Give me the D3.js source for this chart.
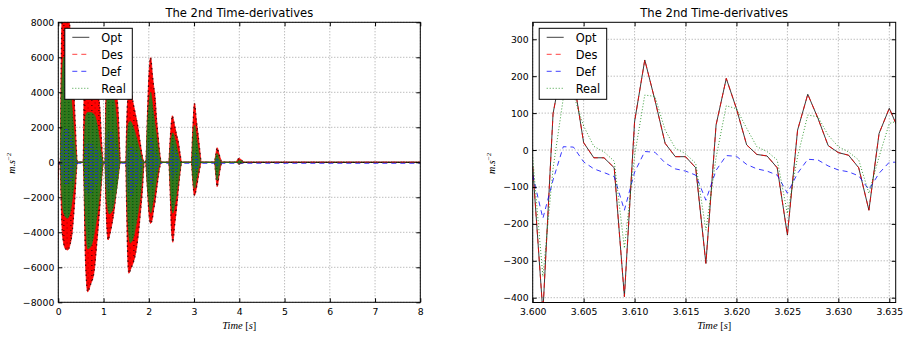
<!DOCTYPE html>
<html><head><meta charset="utf-8">
<script src="https://cdn.jsdelivr.net/npm/d3@7"></script>
<style>
body{margin:0;background:#fff;}
svg{display:block;}
text{font-family:"DejaVu Sans",sans-serif;fill:#000;}
</style>
</head><body>
<svg id="c" width="905" height="338"></svg>
<script>
// ---------------- DATA ----------------
const chartTitle = "The 2nd Time-derivatives";
const seriesNames = ["Opt", "Des", "Def", "Real"];
const seriesColors = ["#000000", "#ff0000", "#0000ff", "#008000"];
const seriesDashes = [null, "5,4", "5,4", "1,2"];

// Left panel: full run, 0..8 s (oscillation envelopes: [time, upper, lower])
const leftXTicks = [0, 1, 2, 3, 4, 5, 6, 7, 8];
const leftYTicks = [-8000, -6000, -4000, -2000, 0, 2000, 4000, 6000, 8000];
const desEnvelope = [
  [0.000,0,-1000],[0.02,0,0],[0.045,0,0],[0.06,4500,-1800],[0.08,7900,-3600],[0.11,8400,-4500],[0.16,8500,-4950],
  [0.21,8400,-5010],[0.26,7600,-4700],[0.30,6000,-4150],[0.34,4200,-3000],[0.37,2500,-1870],[0.40,700,-500],[0.42,0,0],
  [0.55,0,0],[0.57,4000,-1500],[0.59,5800,-4570],[0.62,6700,-6700],[0.65,7000,-7400],[0.71,6600,-7000],[0.79,5500,-6250],
  [0.86,4300,-4340],[0.92,3000,-2440],[0.96,1000,-900],[0.99,0,-100],[1.00,0,0],
  [1.03,0,0],[1.05,3500,-2000],[1.08,5300,-4000],[1.10,5600,-4440],[1.14,5500,-4100],[1.18,5200,-3600],[1.22,4800,-3000],
  [1.29,3900,-1500],[1.33,2500,-700],[1.36,500,-100],[1.37,0,0],
  [1.49,0,0],[1.51,2000,-2500],[1.53,3400,-5000],[1.56,3900,-6340],[1.60,4000,-6100],[1.66,3300,-5700],[1.70,2800,-5300],
  [1.76,2000,-4300],[1.81,1100,-3000],[1.86,300,-1500],[1.89,0,-200],[1.90,0,0],
  [1.93,0,0],[1.94,250,-300],[1.97,2700,-1490],[2.00,4800,-2800],[2.04,5980,-3490],[2.08,5000,-3200],[2.10,4500,-2820],
  [2.14,3650,-2200],[2.17,2500,-1590],[2.21,1370,-800],[2.23,800,-450],[2.28,0,0],
  [2.44,0,0],[2.47,1200,-1500],[2.50,2300,-3800],[2.52,2660,-4400],[2.53,2600,-4570],[2.57,2100,-3600],[2.62,1500,-2440],
  [2.65,1200,-1600],[2.69,500,-600],[2.73,0,0],
  [2.94,0,0],[2.97,1750,-1000],[3.01,3370,-1900],[3.05,2400,-1500],[3.09,1560,-900],[3.13,600,-300],[3.16,0,0],
  [3.45,0,0],[3.48,450,-700],[3.51,835,-1390],[3.55,500,-800],[3.59,150,-200],[3.62,0,0],
  [3.92,0,0],[3.97,180,-60],[4.00,230,-100],[4.05,120,-50],[4.12,0,0],
  [8.00,0,0]
];
const realEnvelope = [
  [0.05,0,0],[0.06,2500,-1000],[0.08,4800,-2000],[0.12,6000,-2900],[0.20,5800,-3200],[0.26,4500,-2900],[0.30,3300,-2300],
  [0.34,2000,-1500],[0.37,1000,-900],[0.40,200,-200],[0.41,0,0],
  [0.56,0,0],[0.58,1500,-1800],[0.61,2700,-3800],[0.65,2850,-4950],[0.72,2850,-4800],[0.80,2700,-4000],[0.87,2000,-2800],
  [0.93,900,-1500],[0.97,200,-400],[0.99,0,0],
  [1.03,0,0],[1.05,2000,-1200],[1.08,3800,-2400],[1.13,4300,-2950],[1.20,3900,-2700],[1.25,3400,-2100],[1.30,2000,-1300],
  [1.34,500,-400],[1.36,0,0],
  [1.50,0,0],[1.52,1200,-2000],[1.55,2200,-3900],[1.59,2350,-4600],[1.66,2000,-4300],[1.73,1400,-3400],[1.80,700,-2200],
  [1.85,200,-1000],[1.89,0,0],
  [1.94,0,0],[1.96,1500,-1000],[2.00,3200,-2200],[2.04,4000,-2900],[2.10,2900,-2200],[2.16,1700,-1200],[2.22,600,-300],[2.27,0,0],
  [2.45,0,0],[2.47,700,-1000],[2.50,1400,-2300],[2.53,1670,-2900],[2.59,1200,-2200],[2.65,500,-1100],[2.71,0,-100],[2.72,0,0],
  [2.95,0,0],[2.97,1000,-700],[3.01,2130,-1490],[3.06,1300,-900],[3.11,500,-300],[3.15,0,0],
  [3.46,0,0],[3.48,300,-500],[3.51,510,-1010],[3.55,250,-500],[3.60,0,0],
  [3.94,0,0],[4.00,120,-60],[4.08,0,0]
];
const defEnvelope = [
  [0.05,0,0],[0.08,1500,-900],[0.15,2000,-1300],[0.25,1800,-1200],[0.33,1000,-800],[0.40,100,-100],[0.41,0,0],
  [0.56,0,0],[0.60,900,-1500],[0.67,1100,-1800],[0.80,900,-1500],[0.90,500,-900],[0.97,0,0],
  [1.03,0,0],[1.07,1500,-1400],[1.13,1850,-1700],[1.22,1500,-1300],[1.30,700,-700],[1.35,0,0],
  [1.50,0,0],[1.54,800,-1600],[1.60,900,-1960],[1.70,700,-1500],[1.80,300,-800],[1.87,0,0],
  [1.94,0,0],[1.98,1100,-1000],[2.04,1500,-1400],[2.12,900,-900],[2.20,300,-300],[2.26,0,0],
  [2.45,0,0],[2.50,800,-800],[2.54,1000,-1000],[2.62,500,-500],[2.70,0,0],
  [2.95,0,0],[3.01,600,-600],[3.08,300,-300],[3.14,0,0],
  [3.46,0,0],[3.51,250,-300],[3.58,0,0]
];
const restLevels = [0, 0, -55, 0]; // Opt, Des, Def, Real at rest

// Right panel: zoom 3.600 .. 3.636 s
const rightXTicks = [3.600, 3.605, 3.610, 3.615, 3.620, 3.625, 3.630, 3.635];
const rightYTicks = [-400, -300, -200, -100, 0, 100, 200, 300];
const zoomTime = [3.600,3.601,3.602,3.603,3.604,3.605,3.606,3.607,3.608,3.609,3.610,3.611,3.612,3.613,3.614,3.615,3.616,3.617,3.618,
  3.619,3.620,3.621,3.622,3.623,3.624,3.625,3.626,3.627,3.628,3.629,3.630,3.631,3.632,3.633,3.634,3.635,3.636];
const optZoom = [-45,-440,99,245,195,20,-21,-21,-48,-397,77,244,135,18,-18,-18,-48,-307,68,194,112,14,-12,-16,-48,
  -230,54,151,86,12,-7,-14,-48,-163,45,113,50];
const desZoom = [-45,-440,99,245,195,20,-21,-21,-48,-397,77,244,135,18,-18,-18,-48,-307,68,194,112,14,-12,-16,-48,
  -230,54,151,86,12,-7,-14,-48,-163,45,113,50];
const defZoom = [-68,-185,-81,9,8,-32,-51,-61,-72,-163,-60,-4,-6,-35,-51,-57,-68,-136,-55,-15,-17,-39,-51,-57,-68,
  -117,-63,-25,-27,-43,-54,-59,-70,-107,-63,-33,-33];
const realZoom = [-20,-343,-50,140,150,65,10,-5,-30,-266,-15,149,145,54,5,-10,-36,-217,-20,120,112,59,9,-4,-27,
  -172,-18,95,90,40,9,-5,-27,-117,-18,72,80];

// ---------------- DRAWING ----------------
const svg = d3.select("#c");
const defs = svg.append("defs");

function makePattern(id, w, h, shapes) {
  const p = defs.append("pattern").attr("id", id).attr("patternUnits", "userSpaceOnUse")
    .attr("width", w).attr("height", h);
  shapes.forEach(s => p.append("rect").attr("x", s[0]).attr("y", s[1]).attr("width", s[2]).attr("height", s[3]).attr("fill", s[4]).attr("opacity", s[5]));
}
makePattern("speckBlack", 7, 5, [[0,0,1.6,1,"#000",0.55],[3.5,2.5,1.2,1,"#000",0.35]]);
makePattern("speckGreen", 4, 3, [[0,0,1.5,1,"#0a4d0a",0.8],[2,1.5,1,1,"#c03010",0.35]]);
makePattern("speckBlue", 5, 3, [[0,0,2.5,1,"#1a2fd0",0.9],[2.5,1.5,1.5,1,"#1a2fd0",0.6]]);

function setupPanel(cfg) {
  const g = svg.append("g");
  const x = d3.scaleLinear().domain(cfg.xDomain).range([cfg.x0, cfg.x1]);
  const y = d3.scaleLinear().domain(cfg.yDomain).range([cfg.y1, cfg.y0]);
  // grid
  const grid = g.append("g").attr("stroke", "#8a8a8a").attr("stroke-width", 0.8).attr("stroke-dasharray", "1,2");
  cfg.xTicks.forEach(t => grid.append("line").attr("x1", x(t)).attr("x2", x(t)).attr("y1", cfg.y0).attr("y2", cfg.y1));
  cfg.yTicks.forEach(t => grid.append("line").attr("x1", cfg.x0).attr("x2", cfg.x1).attr("y1", y(t)).attr("y2", y(t)));
  // clip
  defs.append("clipPath").attr("id", cfg.id + "clip").append("rect")
    .attr("x", cfg.x0).attr("y", cfg.y0).attr("width", cfg.x1 - cfg.x0).attr("height", cfg.y1 - cfg.y0);
  const plot = g.append("g").attr("clip-path", `url(#${cfg.id}clip)`);
  cfg.draw(plot, x, y);
  // axes
  const fs = "9.3px";
  const ax = (gen, tx, ty, labels) => {
    const a = g.append("g").attr("transform", `translate(${tx},${ty})`).call(gen);
    a.select(".domain").remove();
    a.selectAll("text").style("font-size", fs).style("font-family", "DejaVu Sans");
    a.selectAll("line").attr("stroke", "#000");
    if (!labels) a.selectAll("text").remove();
  };
  ax(d3.axisBottom(x).tickValues(cfg.xTicks).tickFormat(cfg.xFmt).tickSize(-4).tickSizeOuter(0).tickPadding(6), 0, cfg.y1, true);
  ax(d3.axisTop(x).tickValues(cfg.xTicks).tickSize(-4).tickSizeOuter(0), 0, cfg.y0, false);
  ax(d3.axisLeft(y).tickValues(cfg.yTicks).tickFormat(cfg.yFmt).tickSize(-4).tickSizeOuter(0).tickPadding(4), cfg.x0, 0, true);
  ax(d3.axisRight(y).tickValues(cfg.yTicks).tickSize(-4).tickSizeOuter(0), cfg.x1, 0, false);
  g.append("rect").attr("x", cfg.x0).attr("y", cfg.y0).attr("width", cfg.x1 - cfg.x0).attr("height", cfg.y1 - cfg.y0)
    .attr("fill", "none").attr("stroke", "#000").attr("stroke-width", 1);
  // title
  g.append("text").attr("x", (cfg.x0 + cfg.x1) / 2).attr("y", 17).attr("text-anchor", "middle")
    .style("font-size", "11.6px").text(chartTitle);
  // x label (math italic)
  const xl = g.append("text").attr("x", (cfg.x0 + cfg.x1) / 2).attr("y", 329).attr("text-anchor", "middle")
    .style("font-family", "Liberation Serif, serif").style("font-size", "10.5px");
  xl.append("tspan").style("font-style", "italic").text("Time");
  xl.append("tspan").text(" [");
  xl.append("tspan").style("font-style", "italic").text("s");
  xl.append("tspan").text("]");
  // y label
  const yl = g.append("text").attr("transform", `translate(${cfg.yLabelX},${(cfg.y0 + cfg.y1) / 2 + 1}) rotate(-90)`)
    .attr("text-anchor", "middle").style("font-family", "Liberation Serif, serif").style("font-size", "10px");
  yl.append("tspan").style("font-style", "italic").text("m");
  yl.append("tspan").text(".");
  yl.append("tspan").style("font-style", "italic").text("s");
  yl.append("tspan").attr("dy", -4).style("font-size", "7px").text("−2");
  // legend
  const lx = cfg.x0 + 6.5, ly = 28.3;
  const lg = g.append("g");
  lg.append("rect").attr("x", lx).attr("y", ly).attr("width", 67.5).attr("height", 71)
    .attr("fill", "#fff").attr("stroke", "#000").attr("stroke-width", 1);
  seriesNames.forEach((n, i) => {
    const cy = ly + 9 + i * 17;
    lg.append("line").attr("x1", lx + 7.5).attr("x2", lx + 24.5).attr("y1", cy).attr("y2", cy)
      .attr("stroke", seriesColors[i]).attr("stroke-width", 1).attr("stroke-opacity", 0.75)
      .attr("stroke-dasharray", seriesDashes[i]);
    lg.append("text").attr("x", lx + 36.5).attr("y", cy + 4.2).style("font-size", "11.4px").text(n);
  });
}

// Left panel
setupPanel({
  id: "L", x0: 58.3, x1: 420.3, y0: 22.3, y1: 302.3, yLabelX: 15,
  xDomain: [0, 8], yDomain: [-8000, 8000], xTicks: leftXTicks, yTicks: leftYTicks,
  xFmt: d3.format("d"), yFmt: d3.format("d"),
  draw: (p, x, y) => {
    const area = d3.area().x(d => x(d[0])).y0(d => y(d[2])).y1(d => y(d[1])).curve(d3.curveMonotoneX);
    const upper = d3.line().x(d => x(d[0])).y(d => y(d[1])).curve(d3.curveMonotoneX);
    const lower = d3.line().x(d => x(d[0])).y(d => y(d[2])).curve(d3.curveMonotoneX);
    // Opt + Des (nearly identical envelopes)
    p.append("path").attr("d", area(desEnvelope)).attr("fill", "#ff0000").attr("stroke", "#ff0000").attr("stroke-width", 0.8);
    p.append("path").attr("d", area(desEnvelope)).attr("fill", "url(#speckBlack)");
    [upper, lower].forEach(fn => p.append("path").attr("d", fn(desEnvelope)).attr("fill", "none")
      .attr("stroke", "#000").attr("stroke-width", 1.3).attr("stroke-dasharray", "1.5,3.5").attr("stroke-opacity", 0.7));
    // rest-level lines
    restLevels.forEach((lv, i) => {
      p.append("line").attr("x1", x(0)).attr("x2", x(8)).attr("y1", y(lv)).attr("y2", y(lv))
        .attr("stroke", seriesColors[i]).attr("stroke-width", 1).attr("stroke-opacity", 0.8)
        .attr("stroke-dasharray", seriesDashes[i]);
    });
    // Def envelope (under Real)
    p.append("path").attr("d", area(defEnvelope)).attr("fill", "#2233d8").attr("opacity", 0.5);
    // Real envelope
    p.append("path").attr("d", area(realEnvelope)).attr("fill", "#2b7a1c").attr("stroke", "#2b7a1c").attr("stroke-width", 0.6);
    p.append("path").attr("d", area(realEnvelope)).attr("fill", "url(#speckGreen)");
    // Def dashes visible through the dotted green
    p.append("path").attr("d", area(defEnvelope)).attr("fill", "url(#speckBlue)");
  }
});

// Right panel
setupPanel({
  id: "R", x0: 532.7, x1: 895.7, y0: 22.3, y1: 302.5, yLabelX: 495,
  xDomain: [3.600, 3.63563], yDomain: [-413, 346], xTicks: rightXTicks, yTicks: rightYTicks,
  xFmt: d3.format(".3f"), yFmt: d3.format("d"),
  draw: (p, x, y) => {
    const line = d3.line().x((d, i) => x(zoomTime[i])).y(d => y(d));
    [optZoom, desZoom, defZoom, realZoom].forEach((vals, i) => {
      p.append("path").attr("d", line(vals)).attr("fill", "none")
        .attr("stroke", seriesColors[i]).attr("stroke-width", 1).attr("stroke-opacity", 0.78)
        .attr("stroke-dasharray", seriesDashes[i]);
    });
  }
});
</script>
</body></html>
